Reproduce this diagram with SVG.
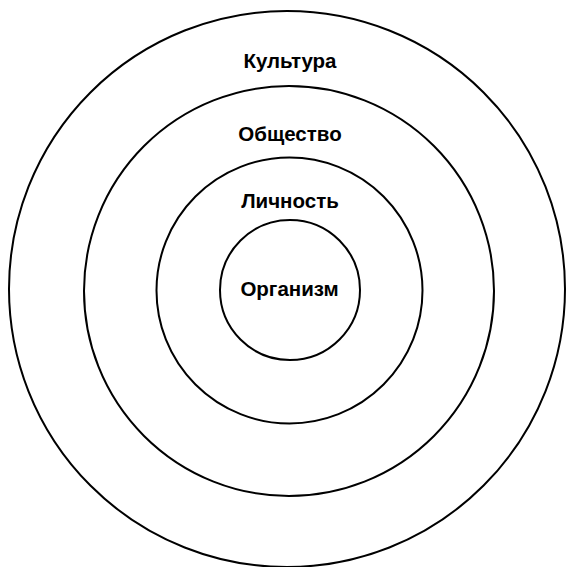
<svg xmlns="http://www.w3.org/2000/svg" width="567" height="567" viewBox="0 0 567 567">
<style>
.ring{fill:none;stroke:#000;stroke-width:2}
.lbl{font-family:"Liberation Sans",Arial,sans-serif;font-weight:bold;font-size:20.5px;text-anchor:middle;fill:#000}
</style>
<rect width="567" height="567" fill="#fff"/>
<g id="culture"><circle class="ring" cx="287" cy="289" r="278"/><text class="lbl" x="290" y="68">Культура</text></g>
<g id="society"><circle class="ring" cx="289" cy="291" r="205"/><text class="lbl" x="290" y="141">Общество</text></g>
<g id="personality"><circle class="ring" cx="289.5" cy="290.5" r="133"/><text class="lbl" x="290" y="208">Личность</text></g>
<g id="organism"><circle class="ring" cx="290" cy="290" r="70"/><text class="lbl" x="289.5" y="296">Организм</text></g>
<g id="connectors"></g>
</svg>
